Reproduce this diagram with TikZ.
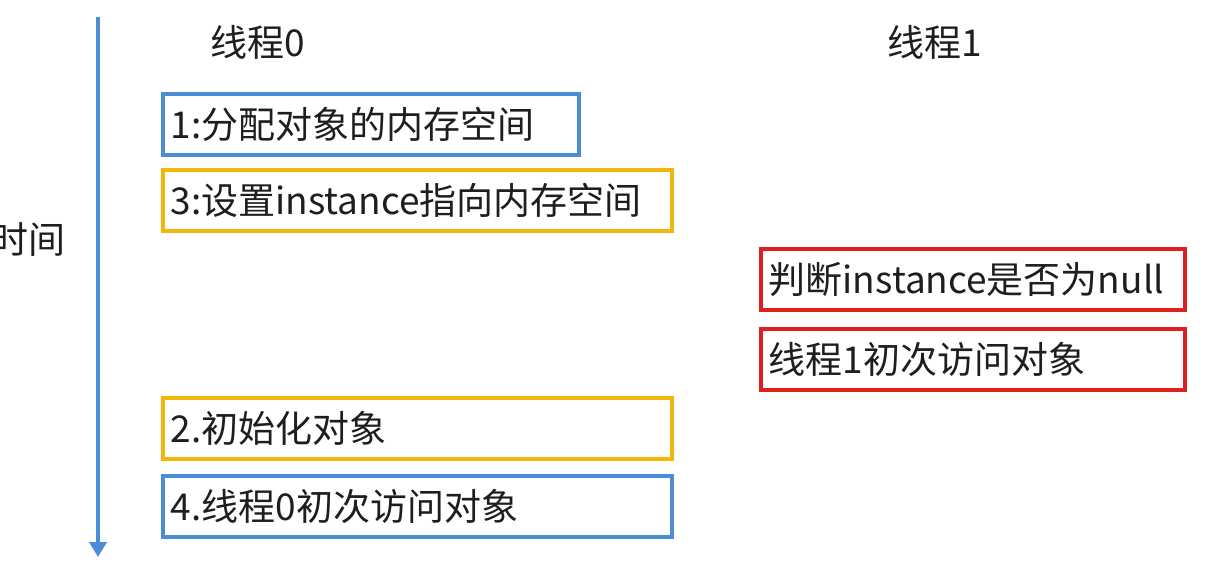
\documentclass[tikz,border=0pt]{standalone}
\usepackage{fontspec}
\setmainfont{Noto Sans CJK SC}
\usetikzlibrary{arrows.meta,positioning}

\definecolor{timeblue}{HTML}{4A8ED8}
\definecolor{stepblue}{HTML}{4A8ED8}
\definecolor{steporange}{HTML}{F5B60A}
\definecolor{stepred}{HTML}{E0201C}
\definecolor{stepink}{HTML}{1E1E1E}

\tikzset{
  lbl/.style={text=stepink,font=\fontsize{37}{42}\selectfont,inner sep=0pt},
  opbox/.style={draw,line width=3.5pt,anchor=north west,inner xsep=8pt,inner ysep=0pt,
    minimum height=61pt,align=left,text=stepink,font=\fontsize{37}{42}\selectfont},
}

\begin{document}
\begin{tikzpicture}[x=1pt,y=-1pt]
  \useasboundingbox[fill=white] (0,0) rectangle (1209,563);
  % time axis
  \coordinate (tstart) at (98,17);
  \coordinate (tend) at (98,557);
  \draw[timeblue,line width=4.5pt,-{Triangle[width=17pt,length=15pt]}] (tstart) -- (tend);
  \node[lbl] (time) at (28,240) {时间};

  % thread headers
  \node[lbl] (t0) at (258,42) {线程0};
  \node[lbl] (t1) at (935,42) {线程1};

  % thread 0
  \node[opbox,draw=stepblue,text width=400pt] (alloc) at (161,92) {1:分配对象的内存空间};
  \node[opbox,draw=steporange,text width=493pt] (assign) at (161,168) {3:设置instance指向内存空间};
  \node[opbox,draw=steporange,text width=493pt] (init) at (161,396) {2.初始化对象};
  \node[opbox,draw=stepblue,text width=493pt] (use0) at (161,474) {4.线程0初次访问对象};

  % thread 1
  \node[opbox,draw=stepred,text width=408pt] (check) at (759,247) {判断instance是否为null};
  \node[opbox,draw=stepred,text width=408pt] (use1) at (759,327) {线程1初次访问对象};
\end{tikzpicture}
\end{document}
